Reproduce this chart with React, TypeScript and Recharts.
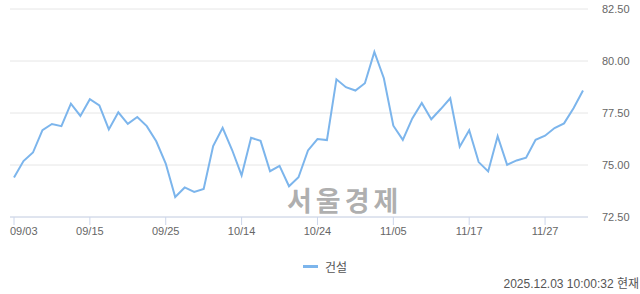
import { LineChart, Line, XAxis, YAxis, CartesianGrid, Legend } from "recharts";

const dates = [
  "09/03", "09/04", "09/05", "09/08", "09/09", "09/10", "09/11", "09/12",
  "09/15", "09/16", "09/17", "09/18", "09/19", "09/22", "09/23", "09/24",
  "09/25", "09/26", "09/29", "09/30", "10/01", "10/02", "10/10", "10/13",
  "10/14", "10/15", "10/16", "10/17", "10/20", "10/21", "10/22", "10/23",
  "10/24", "10/27", "10/28", "10/29", "10/30", "10/31", "11/03", "11/04",
  "11/05", "11/06", "11/07", "11/10", "11/11", "11/12", "11/13", "11/14",
  "11/17", "11/18", "11/19", "11/20", "11/21", "11/24", "11/25", "11/26",
  "11/27", "11/28", "12/01", "12/02", "12/03",
];

const construction = [
  74.4, 75.19, 75.6, 76.68, 76.97, 76.87, 77.95, 77.36,
  78.16, 77.87, 76.71, 77.53, 76.98, 77.31, 76.87, 76.14,
  75.07, 73.46, 73.92, 73.71, 73.85, 75.91, 76.79, 75.72,
  74.5, 76.31, 76.16, 74.7, 74.96, 73.98, 74.41, 75.7,
  76.25, 76.2, 79.12, 78.74, 78.58, 78.93, 80.44, 79.17,
  76.89, 76.21, 77.24, 77.98, 77.2, 77.69, 78.21, 75.88,
  76.67, 75.14, 74.69, 76.38, 75.01, 75.22, 75.35, 76.21,
  76.41, 76.78, 77.0, 77.73, 78.58,
];

const yTicks = [72.5, 75, 77.5, 80, 82.5];

const seriesName = "건설";
const stamp = "2025.12.03 10:00:32 현재";

const data = dates.map((d, i) => ({ date: d, value: construction[i] }));

const font = "'Liberation Sans', 'Noto Sans CJK KR', sans-serif";
const lineColor = "#7cb5ec";

function LegendBox() {
  return (
    <div style={{ display: "flex", justifyContent: "center", alignItems: "center", height: 20, fontFamily: font, fontSize: 12, color: "#555" }}>
      <span style={{ display: "inline-block", width: 15, height: 3, background: lineColor, marginRight: 7 }} />
      <span>{seriesName}</span>
    </div>
  );
}

// first label is pushed right so it starts at the plot edge
function DateTick(props: any) {
  const { x, y, payload, index } = props;
  const first = index === 0;
  return (
    <text
      x={first ? 10 : x}
      y={y}
      dy="0.71em"
      textAnchor={first ? "start" : "middle"}
      fill="#666"
      fontSize={11}
      fontFamily={font}
    >
      {payload.value}
    </text>
  );
}

export default function App() {
  return (
    <div style={{ position: "fixed", left: 0, top: 0, width: 640, height: 294, background: "#fff" }}>
      <LineChart width={640} height={294} data={data} margin={{ top: 9, right: 0, bottom: 18, left: 10 }}>
        <CartesianGrid stroke="#e6e6e6" vertical={false} />
        <XAxis
          dataKey="date"
          interval={7}
          padding={{ left: 4, right: 5 }}
          height={39}
          stroke="#ccd6eb"
          tickSize={8}
          tick={<DateTick />}
        />
        <YAxis
          orientation="right"
          domain={[72.5, 82.5]}
          ticks={yTicks}
          width={52}
          axisLine={false}
          tickLine={false}
          tickSize={0}
          tickMargin={14}
          tickFormatter={(v: number) => v.toFixed(2)}
          tick={{ fill: "#666", fontSize: 11, fontFamily: font, textAnchor: "start" }}
        />
        <Legend verticalAlign="bottom" height={20} content={() => <LegendBox />} />
        <Line
          type="linear"
          dataKey="value"
          name={seriesName}
          stroke={lineColor}
          strokeWidth={2}
          dot={false}
          isAnimationActive={false}
        />
      </LineChart>
      <div
        style={{
          position: "absolute", left: 287, top: 186, fontFamily: "'Noto Sans CJK KR', sans-serif",
          fontWeight: 700, fontSize: 27, lineHeight: "27px", letterSpacing: 4,
          color: "rgba(140,140,140,0.7)", pointerEvents: "none",
        }}
      >
        서울경제
      </div>
      <div style={{ position: "absolute", right: 1, top: 274, fontFamily: font, fontSize: 12, color: "#555" }}>
        {stamp}
      </div>
    </div>
  );
}
